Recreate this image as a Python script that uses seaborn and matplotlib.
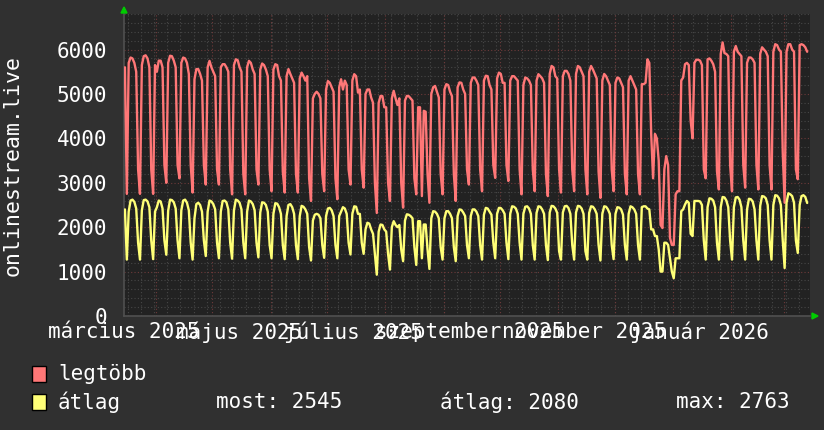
import matplotlib
matplotlib.use("Agg")
import matplotlib.pyplot as plt
from matplotlib.patches import Polygon, Rectangle
import pandas as pd
import seaborn as sns

# daily values, Sat 15 Mar 2025 onwards; rows are Mon..Sun weeks
start_red = [5600, 2750]
red_weeks = [
    [5700, 5820, 5800, 5700, 5500, 3300, 2750],
    [5650, 5850, 5870, 5800, 5600, 3300, 2750],
    [5650, 5500, 5750, 5750, 5600, 3400, 3000],
    [5700, 5860, 5850, 5750, 5600, 3400, 3100],
    [5700, 5820, 5800, 5700, 5450, 3400, 2780],
    [5330, 5560, 5560, 5450, 5300, 3400, 2960],
    [5600, 5745, 5600, 5500, 5400, 3300, 2960],
    [5600, 5670, 5670, 5600, 5500, 3300, 2740],
    [5650, 5780, 5760, 5600, 5500, 3200, 2740],
    [5600, 5745, 5700, 5550, 5450, 3300, 2960],
    [5550, 5685, 5650, 5550, 5400, 3300, 2810],
    [5550, 5670, 5650, 5400, 5300, 3250, 2780],
    [5400, 5560, 5450, 5350, 5250, 3200, 2780],
    [5350, 5480, 5400, 5300, 5400, 3100, 2590],
    [4900, 5000, 5050, 5000, 4900, 3200, 2810],
    [5100, 5290, 5250, 5150, 5050, 3100, 2630],
    [5150, 5330, 5100, 5300, 5200, 3300, 2960],
    [5300, 5445, 5400, 5030, 5100, 3300, 2890],
    [5000, 5100, 5100, 4920, 4800, 3000, 2320],
    [4800, 4955, 4950, 4700, 4700, 3000, 2590],
    [4900, 5070, 4900, 4750, 4900, 3000, 2440],
    [4850, 4955, 4950, 4900, 4850, 3100, 2740],
    [4700, 4700, 2700, 4620, 4600, 3200, 2550],
    [5000, 5150, 5180, 5050, 4920, 3200, 2740],
    [5100, 5220, 5200, 5050, 4950, 3200, 2590],
    [5150, 5260, 5250, 5100, 5000, 3300, 2960],
    [5250, 5370, 5370, 5300, 5200, 3300, 2810],
    [5300, 5410, 5400, 5200, 5100, 3400, 3110],
    [5350, 5480, 5450, 5250, 5250, 3400, 3040],
    [5300, 5400, 5400, 5350, 5300, 3300, 2740],
    [5200, 5370, 5350, 5300, 5200, 3300, 2810],
    [5300, 5445, 5400, 5350, 5250, 3200, 2700],
    [5450, 5630, 5600, 5400, 5350, 3300, 2780],
    [5400, 5520, 5520, 5450, 5300, 3300, 2810],
    [5450, 5630, 5600, 5500, 5400, 3300, 2740],
    [5500, 5630, 5550, 5450, 5350, 3250, 2660],
    [5300, 5450, 5400, 5300, 5200, 3300, 2810],
    [5250, 5370, 5350, 5250, 5150, 3200, 2740],
    [5300, 5400, 5300, 5200, 5100, 3200, 2740],
    [5220, 5220, 5250, 5780, 5700, 4100, 3100],
    [4100, 4000, 3500, 2050, 1980, 3300, 3600],
    [3400, 1760, 1600, 1600, 2740, 2810, 2810],
    [5300, 5370, 5670, 5700, 5650, 4400, 4000],
    [5700, 5770, 5770, 5750, 5650, 3300, 3100],
    [5780, 5800, 5750, 5670, 5500, 3260, 2850],
    [5900, 6160, 5920, 5900, 5850, 3400, 2810],
    [5950, 6080, 5950, 5900, 5850, 3400, 2890],
    [5700, 5820, 5820, 5780, 5700, 3400, 2850],
    [5900, 6050, 6000, 5950, 5850, 3400, 2850],
    [5950, 6120, 6100, 6000, 5950, 3680, 2550],
    [5950, 6120, 6120, 6000, 5950, 3300, 3080],
    [6100, 6120, 6100, 6050, 5950],
]

start_avg = [2400, 1270]
avg_weeks = [
    [2350, 2600, 2620, 2570, 2420, 1650, 1270],
    [2380, 2610, 2620, 2580, 2450, 1700, 1280],
    [2350, 2450, 2600, 2580, 2420, 1700, 1380],
    [2370, 2620, 2610, 2560, 2420, 1700, 1300],
    [2380, 2600, 2620, 2550, 2380, 1650, 1270],
    [2200, 2520, 2550, 2500, 2350, 1700, 1350],
    [2350, 2600, 2580, 2520, 2400, 1650, 1300],
    [2350, 2590, 2600, 2560, 2400, 1650, 1290],
    [2380, 2620, 2600, 2550, 2400, 1650, 1300],
    [2350, 2600, 2580, 2520, 2380, 1650, 1320],
    [2330, 2560, 2550, 2500, 2350, 1600, 1300],
    [2300, 2540, 2530, 2450, 2300, 1600, 1280],
    [2250, 2500, 2520, 2450, 2300, 1600, 1280],
    [2250, 2480, 2460, 2400, 2300, 1550, 1250],
    [2150, 2280, 2300, 2280, 2200, 1600, 1310],
    [2250, 2420, 2435, 2380, 2250, 1600, 1300],
    [2250, 2350, 2450, 2420, 2300, 1650, 1385],
    [2300, 2470, 2460, 2300, 2300, 1650, 1400],
    [1950, 2100, 2080, 1950, 1850, 1400, 930],
    [1900, 2060, 2050, 1950, 1900, 1400, 1045],
    [2000, 2135, 2050, 2000, 2050, 1500, 1234],
    [2150, 2290, 2280, 2250, 2200, 1550, 1150],
    [2135, 2135, 1300, 2060, 2060, 1500, 1060],
    [2200, 2360, 2350, 2300, 2200, 1550, 1270],
    [2200, 2360, 2360, 2300, 2200, 1550, 1234],
    [2250, 2400, 2390, 2330, 2250, 1600, 1300],
    [2250, 2400, 2400, 2350, 2250, 1600, 1270],
    [2280, 2435, 2420, 2350, 2280, 1650, 1300],
    [2300, 2435, 2430, 2380, 2300, 1650, 1280],
    [2300, 2470, 2460, 2420, 2300, 1650, 1270],
    [2300, 2460, 2470, 2420, 2300, 1600, 1270],
    [2320, 2470, 2460, 2400, 2300, 1600, 1260],
    [2330, 2480, 2470, 2420, 2320, 1460, 1270],
    [2330, 2470, 2480, 2430, 2300, 1600, 1270],
    [2330, 2480, 2470, 2420, 2300, 1460, 1270],
    [2320, 2470, 2460, 2400, 2300, 1600, 1250],
    [2300, 2470, 2460, 2400, 2300, 1600, 1280],
    [2300, 2450, 2440, 2400, 2280, 1600, 1270],
    [2300, 2470, 2450, 2400, 2300, 1600, 1270],
    [2450, 2470, 2470, 2420, 2400, 1950, 1950],
    [1800, 1800, 1500, 1000, 1000, 1650, 1650],
    [1600, 1300, 1000, 850, 1300, 1300, 1300],
    [2360, 2400, 2510, 2590, 2550, 1850, 1800],
    [2590, 2590, 2590, 2580, 2500, 1700, 1270],
    [2450, 2650, 2640, 2600, 2450, 1650, 1270],
    [2450, 2680, 2670, 2600, 2450, 1700, 1270],
    [2450, 2670, 2680, 2620, 2450, 1700, 1270],
    [2400, 2640, 2630, 2580, 2400, 1700, 1270],
    [2480, 2700, 2690, 2650, 2500, 1700, 1270],
    [2500, 2720, 2710, 2650, 2500, 1700, 1080],
    [2550, 2763, 2740, 2700, 2550, 1700, 1420],
    [2500, 2700, 2720, 2680, 2545],
]

month_labels = ["március 2025", "május 2025", "július 2025",
                "szeptember 2025", "november 2025", "január 2026"]
label_dates = ["2025-03-15", "2025-05-15", "2025-07-15",
               "2025-09-15", "2025-11-15", "2026-01-15"]
legend_names = ["legtöbb", "átlag"]
stats_text = ["most: 2545", "átlag: 2080", "max: 2763"]
y_title = "onlinestream.live"

red_vals = start_red + [v for w in red_weeks for v in w]
avg_vals = start_avg + [v for w in avg_weeks for v in w]
days = pd.date_range("2025-03-15 12:00", periods=len(red_vals), freq="D")
df = pd.DataFrame({"day": days, "legtöbb": red_vals, "átlag": avg_vals})

BG = "#303030"
CANVAS = "#222222"
RED = "#ff7777"
YEL = "#ffff77"
W, H = 824, 430

sns.set_theme(style="dark")
plt.rcParams["font.family"] = ["DejaVu Sans Mono"]

fig = plt.figure(figsize=(W / 100, H / 100), dpi=100, facecolor=BG)
ax = fig.add_axes([124 / W, 1 - 316 / H, 686 / W, 302 / H])
ax.set_facecolor(CANVAS)

# grid: minor every 200 / week, major every 1000 / month
x0, x1 = pd.Timestamp("2025-03-15"), pd.Timestamp("2026-03-15")
for y in range(0, 6801, 200):
    col = "#6e3a3a" if y % 1000 == 0 else "#474747"
    ax.axhline(y, color=col, lw=0.8, ls=(0, (1, 2)), zorder=1)
for d in pd.date_range("2025-03-17", x1, freq="7D"):
    ax.axvline(d, color="#474747", lw=0.8, ls=(0, (1, 2)), zorder=1)
for d in pd.date_range("2025-04-01", x1, freq="MS"):
    ax.axvline(d, color="#6e3a3a", lw=0.8, ls=(0, (1, 2)), zorder=1)

sns.lineplot(data=df, x="day", y="legtöbb", ax=ax, color=RED, lw=1.7, zorder=3)
sns.lineplot(data=df, x="day", y="átlag", ax=ax, color=YEL, lw=1.7, zorder=3)

ax.set_xlim(x0, x1)
ax.set_ylim(0, 6800)
ax.set_yticks(range(0, 6001, 1000))
ax.set_yticklabels([str(v) for v in range(0, 6001, 1000)])
ax.set_xticks([pd.Timestamp(d) for d in label_dates])
ax.set_xticklabels(month_labels)
ax.tick_params(axis="both", colors="white", labelsize=15, length=0)
ax.tick_params(axis="y", pad=12)
ax.tick_params(axis="x", pad=4)
ax.set_xlabel("")
ax.set_ylabel("")
for s in ["top", "right"]:
    ax.spines[s].set_visible(False)
for s in ["left", "bottom"]:
    ax.spines[s].set_visible(True)
    ax.spines[s].set_color("#505050")
    ax.spines[s].set_linewidth(1.2)


def px(x, y):
    return (x / W, 1 - y / H)


fig.text(*px(13, 165), y_title, color="white", fontsize=15.5,
         rotation=90, ha="center", va="center")

# arrows at the ends of the axes
fig.add_artist(Polygon([px(121, 13), px(127, 13), px(124, 7)], closed=True,
                       transform=fig.transFigure, color="#00cc00"))
fig.add_artist(Polygon([px(812, 313), px(812, 319), px(818, 316)], closed=True,
                       transform=fig.transFigure, color="#00cc00"))

# legend
for i, (name, col) in enumerate(zip(legend_names, [RED, YEL])):
    yc = 374 + 28 * i
    fig.add_artist(Rectangle(px(32, yc + 8), 14 / W, 16 / H,
                             transform=fig.transFigure, facecolor=col,
                             edgecolor="black", lw=1))
    fig.text(*px(58, yc), name, color="white", fontsize=15, va="center")
for txt, xp in zip(stats_text, [216, 440, 676]):
    fig.text(*px(xp, 402), txt, color="white", fontsize=15, va="center")

fig.savefig("out.png", dpi=100, facecolor=BG)
